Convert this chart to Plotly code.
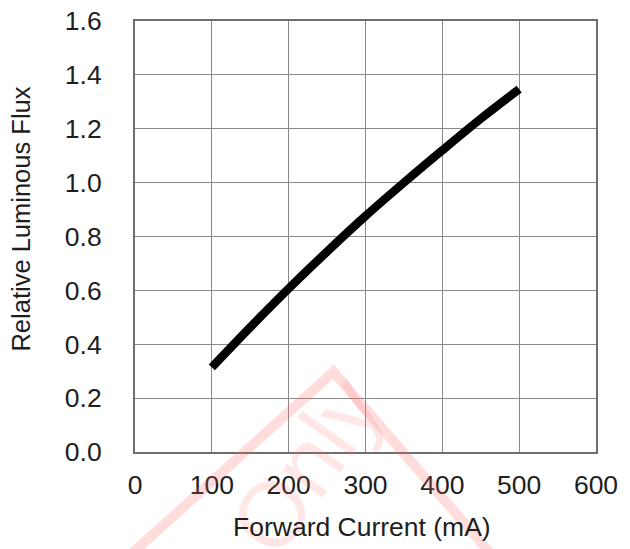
import plotly.graph_objects as go

# Data
current_mA = [100, 150, 200, 250, 300, 350, 400, 450, 500]
rel_flux = [0.314, 0.463, 0.607, 0.744, 0.876, 1.0, 1.12, 1.237, 1.347]

x_ticks = [0, 100, 200, 300, 400, 500, 600]
y_ticks = [0.0, 0.2, 0.4, 0.6, 0.8, 1.0, 1.2, 1.4, 1.6]

x_title = "Forward Current (mA)"
y_title = "Relative Luminous Flux"

FONT = "Liberation Sans, Arial, sans-serif"
FS = 26.5
TXT = "#1e1e1e"

# page offset (browser body margin) compensation
OFF = 8
W, H = 630, 549

fig = go.Figure()
fig.add_trace(go.Scatter(
    x=current_mA, y=rel_flux, mode="lines",
    line=dict(color="black", width=8.5, shape="spline"),
    showlegend=False, hoverinfo="skip",
))

# plot-area pixel geometry in the reference picture
L, R, T, B = 134.5, 595.7, 21.0, 452.0
def px(xp):
    return (xp - L) / (R - L)
def py(yp):
    return (B - yp) / (B - T)

# faint watermark (decorative)
wm = "rgba(255,100,100,0.22)"
path = "M {} {} L {} {} L {} {}".format(px(333 - 300), py(372 + 270), px(333), py(372), px(333 + 260), py(372 + 300))
fig.add_shape(type="path", xref="paper", yref="paper", path=path,
              line=dict(color=wm, width=10), layer="above")
fig.add_annotation(text="Only", xref="paper", yref="paper",
                   x=px(305), y=py(575), showarrow=False, textangle=-55,
                   font=dict(family=FONT, size=92, color="rgba(255,110,110,0.17)"))

fig.add_annotation(text=y_title, xref="paper", yref="paper",
                   x=px(20), y=py(219), showarrow=False, textangle=-90,
                   xanchor="center", yanchor="middle",
                   font=dict(family=FONT, size=25.5, color=TXT))
fig.add_annotation(text=x_title, xref="paper", yref="paper",
                   x=px(361.5), y=py(527), showarrow=False,
                   xanchor="center", yanchor="middle",
                   font=dict(family=FONT, size=FS, color=TXT))

fig.update_xaxes(range=[0, 600], tickvals=x_ticks, ticktext=[str(v) for v in x_ticks],
                 showgrid=True, gridcolor="#8a8a8a", gridwidth=1,
                 showline=True, linecolor="#6e6e6e", linewidth=2, mirror=True,
                 ticks="outside", ticklen=8, tickcolor="rgba(0,0,0,0)",
                 zeroline=False, automargin=False, ticklabeloverflow="allow",
                 tickfont=dict(family=FONT, size=FS, color=TXT))
fig.update_yaxes(range=[0, 1.6], tickvals=y_ticks, ticktext=["%.1f" % v for v in y_ticks],
                 showgrid=True, gridcolor="#8a8a8a", gridwidth=1,
                 showline=True, linecolor="#6e6e6e", linewidth=2, mirror=True,
                 ticks="outside", ticklen=26, tickcolor="rgba(0,0,0,0)",
                 zeroline=False, automargin=False, ticklabeloverflow="allow",
                 tickfont=dict(family=FONT, size=FS, color=TXT))

fig.update_layout(
    width=W, height=H,
    margin=dict(l=L - OFF, r=W - R + OFF, t=T - OFF, b=H - B + OFF, pad=0),
    paper_bgcolor="white", plot_bgcolor="white",
    font=dict(family=FONT, size=FS, color=TXT),
)

fig.write_html("out.html")
